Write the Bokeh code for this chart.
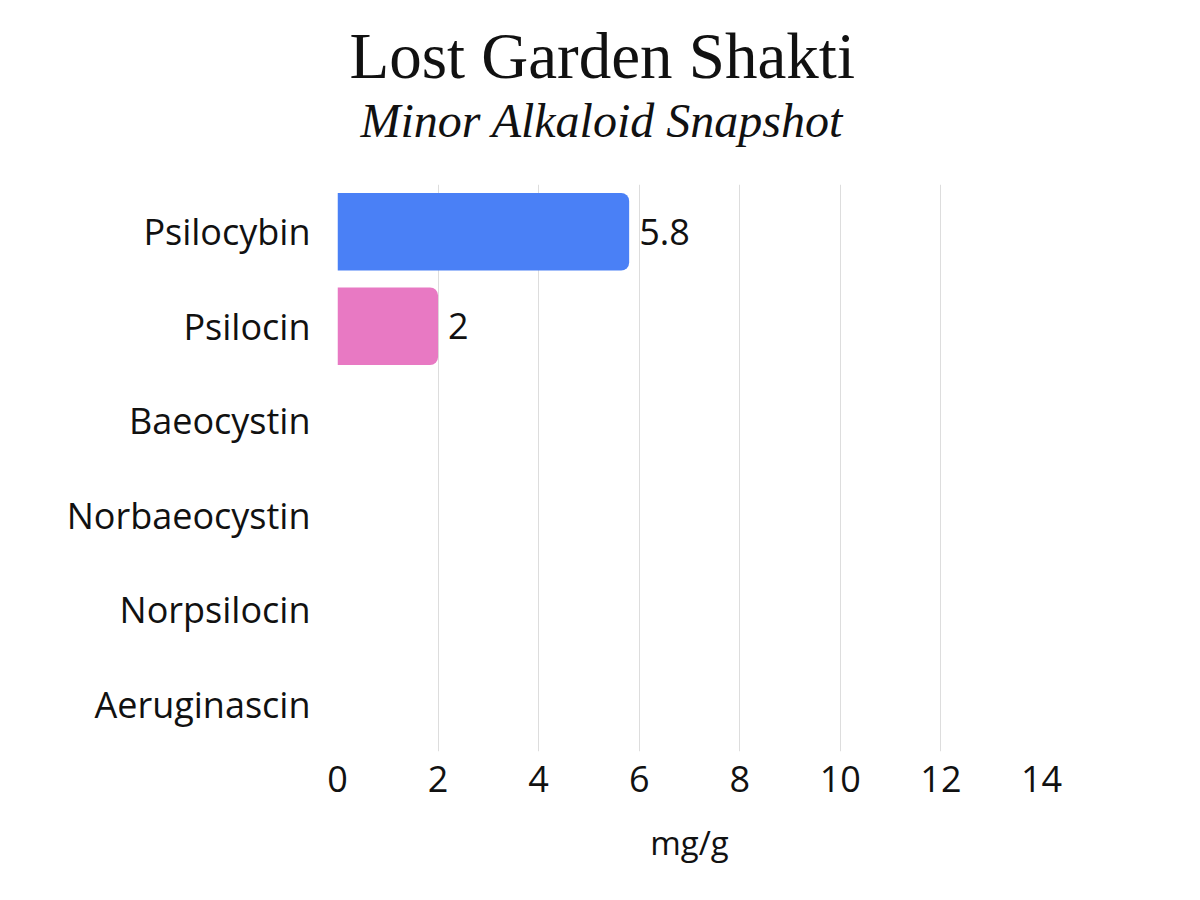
from bokeh.plotting import figure
from bokeh.models import ColumnDataSource, Range1d, FactorRange, Title
from bokeh.embed import file_html
from bokeh.resources import INLINE
from bokeh.core.properties import value

compounds = ["Psilocybin", "Psilocin", "Baeocystin", "Norbaeocystin", "Norpsilocin", "Aeruginascin"]
amounts = [5.8, 2.0, 0.0, 0.0, 0.0, 0.0]
colors = ["#4A80F6", "#E879C3", "#4A80F6", "#4A80F6", "#4A80F6", "#4A80F6"]
x_ticks = [0, 2, 4, 6, 8, 10, 12, 14]
title_text = "Lost Garden Shakti"
subtitle_text = "Minor Alkaloid Snapshot"
x_label = "mg/g"

FONT = "Open Sans"

p = figure(width=1184, height=884, output_backend="svg", toolbar_location=None,
           y_range=FactorRange(*reversed(compounds), range_padding=0),
           x_range=Range1d(0, 14),
           min_border_left=337, min_border_right=143, min_border_top=184, min_border_bottom=133)
p.outline_line_color = None
p.background_fill_color = "white"
p.border_fill_color = "white"

spacer = Title(text=" ", align="left", vertical_align="bottom", text_font="Liberation Serif",
               text_font_size="32px", standoff=0, text_color="white")
sub = Title(text=subtitle_text, align="left", offset=23, vertical_align="bottom",
            text_font="Liberation Serif", text_font_style="italic",
            text_font_size="48px", text_color="#111111", standoff=0)
main = Title(text=title_text, align="left", offset=12, vertical_align="bottom",
             text_font="Liberation Serif", text_font_style="normal",
             text_font_size="65px", text_color="#111111", standoff=0)
p.add_layout(spacer, "above")
p.add_layout(sub, "above")
p.add_layout(main, "above")

src = ColumnDataSource(dict(y=compounds, x=amounts, c=colors))
p.hbar(y="y", left=0, right="x", height=0.82, fill_color="c", line_color=None,
       border_radius=(0, 8, 8, 0), source=src)

lab = ColumnDataSource(dict(
    y=[c for c, a in zip(compounds, amounts) if a > 0],
    x=[a for a in amounts if a > 0],
    t=[("%g" % a) for a in amounts if a > 0]))
p.text(x="x", y="y", text="t", source=lab, x_offset=10, text_align="left", text_baseline="middle",
       text_font=value(FONT), text_font_size="36px", text_color="#111111")

p.xaxis.ticker = x_ticks
p.xaxis.axis_line_color = None
p.xaxis.major_tick_line_color = None
p.xaxis.minor_tick_line_color = None
p.xaxis.major_label_text_font = FONT
p.xaxis.major_label_text_font_size = "36px"
p.xaxis.major_label_text_color = "#111111"
p.xaxis.major_label_standoff = 8
p.xaxis.axis_label = x_label
p.xaxis.axis_label_text_font = FONT
p.xaxis.axis_label_text_font_size = "33px"
p.xaxis.axis_label_text_font_style = "normal"
p.xaxis.axis_label_text_color = "#111111"
p.xaxis.axis_label_standoff = 25

p.yaxis.axis_line_color = None
p.yaxis.major_tick_line_color = None
p.yaxis.minor_tick_line_color = None
p.yaxis.major_label_text_font = FONT
p.yaxis.major_label_text_font_size = "36px"
p.yaxis.major_label_text_color = "#111111"
p.yaxis.major_label_standoff = 21

p.xgrid.grid_line_color = "#DDDDDD"
p.xgrid.grid_line_width = 1
p.ygrid.grid_line_color = None

open("out.html", "w").write(file_html(p, INLINE))
